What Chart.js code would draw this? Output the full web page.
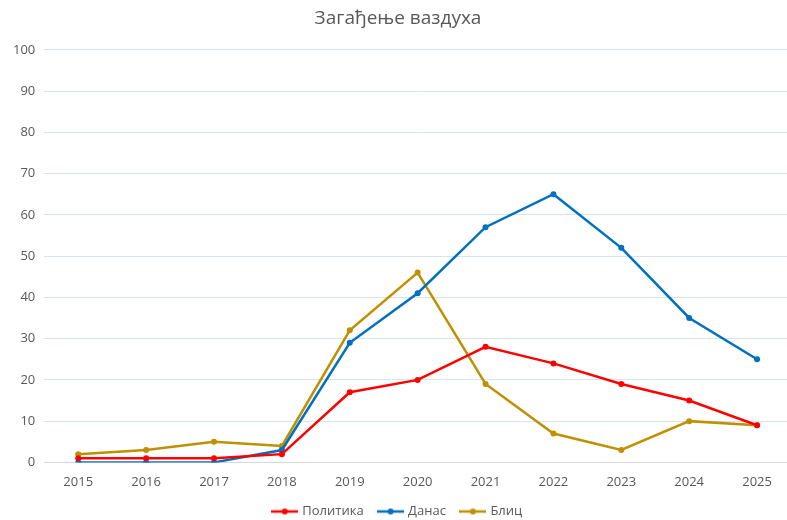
<!DOCTYPE html>
<html>
<head>
<meta charset="utf-8">
<script src="https://cdn.jsdelivr.net/npm/chart.js@4.4.1/dist/chart.umd.min.js"></script>
<style>
  html, body { margin: 0; padding: 0; background: #fff; overflow: hidden; }
  #wrap { width: 794px; height: 520px; }
</style>
</head>
<body>
<div id="wrap"><canvas id="chart"></canvas></div>
<script>
const years = ['2015', '2016', '2017', '2018', '2019', '2020', '2021', '2022', '2023', '2024', '2025'];
const politika = [1, 1, 1, 2, 17, 20, 28, 24, 19, 15, 9];
const danas = [0, 0, 0, 3, 29, 41, 57, 65, 52, 35, 25];
const blic = [2, 3, 5, 4, 32, 46, 19, 7, 3, 10, 9];
const seriesNames = ['Политика', 'Данас', 'Блиц'];
const seriesColors = ['#FF0000', '#0070C0', '#BF9000'];

const FONT = '"Open Sans", "Noto Sans", sans-serif';
const TEXT = '#595959';

// legend marker: short line with a dot in the middle, like the office style
function legendMarker(color) {
  const c = document.createElement('canvas');
  c.width = 27;
  c.height = 10;
  const ctx = c.getContext('2d');
  ctx.strokeStyle = color;
  ctx.lineWidth = 2.5;
  ctx.beginPath();
  ctx.moveTo(0, 5);
  ctx.lineTo(27, 5);
  ctx.stroke();
  ctx.fillStyle = color;
  ctx.beginPath();
  ctx.arc(13.5, 5, 3, 0, Math.PI * 2);
  ctx.fill();
  return c;
}

const makeSet = (name, data, color) => ({
  label: name,
  data: data,
  borderColor: color,
  backgroundColor: color,
  borderWidth: 2.5,
  pointRadius: 3,
  pointHoverRadius: 3,
  pointBorderWidth: 0,
  pointBackgroundColor: color,
  tension: 0,
  fill: false
});

const datasets = [
  makeSet(seriesNames[0], politika, seriesColors[0]),
  makeSet(seriesNames[1], danas, seriesColors[1]),
  makeSet(seriesNames[2], blic, seriesColors[2])
];

new Chart(document.getElementById('chart'), {
  type: 'line',
  data: { labels: years, datasets: datasets },
  options: {
    responsive: true,
    maintainAspectRatio: false,
    animation: false,
    layout: { padding: { left: 4, right: 2, top: 3, bottom: 1 } },
    plugins: {
      title: {
        display: true,
        text: 'Загађење ваздуха',
        color: TEXT,
        font: { family: FONT, size: 19, weight: 'normal' },
        padding: { top: 4, bottom: 20 }
      },
      legend: {
        position: 'bottom',
        maxHeight: 30,
        labels: {
          color: TEXT,
          font: { family: FONT, size: 13 },
          usePointStyle: true,
          pointStyleWidth: 22,
          boxWidth: 28,
          boxHeight: 10,
          padding: 16,
          generateLabels: (chart) => chart.data.datasets.map((ds, i) => ({
            text: ds.label,
            fontColor: TEXT,
            pointStyle: legendMarker(seriesColors[i]),
            strokeStyle: 'transparent',
            fillStyle: 'transparent',
            lineWidth: 0,
            datasetIndex: i,
            hidden: false
          }))
        }
      },
      tooltip: { enabled: false }
    },
    scales: {
      x: {
        offset: true,
        grid: { display: false, drawTicks: false },
        border: { color: '#D9D9D9', width: 1 },
        ticks: { color: TEXT, font: { family: FONT, size: 13 }, padding: 12 },
        afterFit: (scale) => { scale.height -= 13; }
      },
      y: {
        min: 0,
        max: 100,
        ticks: { stepSize: 10, color: TEXT, font: { family: FONT, size: 13 }, padding: 9 },
        grid: { color: '#D6E4F2', lineWidth: 1, drawTicks: false },
        border: { display: false }
      }
    }
  }
});
</script>
</body>
</html>
